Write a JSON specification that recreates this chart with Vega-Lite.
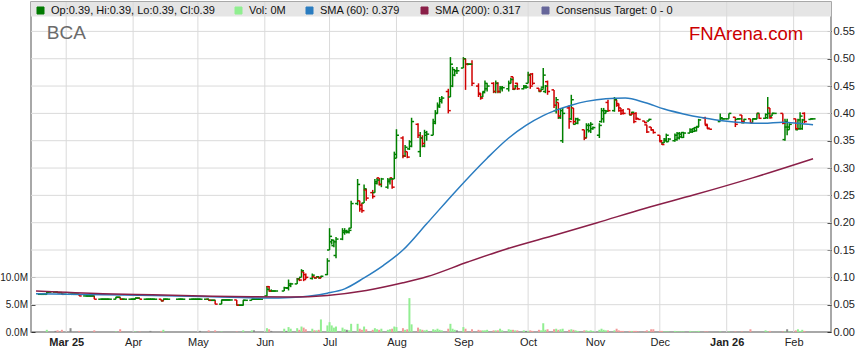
{
"$schema":"https://vega.github.io/schema/vega-lite/v6.json",
"width":800,"height":330,"autosize":"none",
"padding":{"left":31,"top":2,"right":28,"bottom":31},
"background":"white",
"config":{"view":{"stroke":"#8c8c8c","strokeWidth":1.5},
"axis":{"labelFont":"Liberation Sans","labelFontSize":11,"labelColor":"#222"},
"text":{"font":"Liberation Sans"}},
"datasets":{
"gx":[{"m":"2025-03-01"},{"m":"2025-04-01"},{"m":"2025-05-01"},{"m":"2025-06-01"},{"m":"2025-07-01"},{"m":"2025-08-01"},{"m":"2025-09-01"},{"m":"2025-10-01"},{"m":"2025-11-01"},{"m":"2025-12-01"},{"m":"2026-01-01"},{"m":"2026-02-01"}],
"gy":[{"g":0.05},{"g":0.1},{"g":0.15},{"g":0.2},{"g":0.25},{"g":0.3},{"g":0.35},{"g":0.4},{"g":0.45},{"g":0.5},{"g":0.55}],
"px":[
{"d":"2025-02-17","o":0.069,"h":0.069,"l":0.069,"c":0.069,"v":0},
{"d":"2025-02-18","o":0.069,"h":0.069,"l":0.069,"c":0.069,"v":0},
{"d":"2025-02-19","o":0.069,"h":0.069,"l":0.069,"c":0.069,"v":0},
{"d":"2025-02-20","o":0.069,"h":0.073,"l":0.069,"c":0.073,"v":0.4},
{"d":"2025-02-21","o":0.073,"h":0.073,"l":0.073,"c":0.073,"v":0},
{"d":"2025-02-24","o":0.073,"h":0.073,"l":0.073,"c":0.073,"v":0.2},
{"d":"2025-02-25","o":0.073,"h":0.073,"l":0.072,"c":0.072,"v":0.3},
{"d":"2025-02-26","o":0.072,"h":0.072,"l":0.072,"c":0.072,"v":0},
{"d":"2025-02-27","o":0.072,"h":0.072,"l":0.069,"c":0.069,"v":0.4},
{"d":"2025-02-28","o":0.069,"h":0.069,"l":0.069,"c":0.069,"v":0},
{"d":"2025-03-03","o":0.069,"h":0.069,"l":0.069,"c":0.069,"v":0.7},
{"d":"2025-03-04","o":0.069,"h":0.069,"l":0.069,"c":0.069,"v":0},
{"d":"2025-03-05","o":0.069,"h":0.069,"l":0.069,"c":0.069,"v":0},
{"d":"2025-03-06","o":0.069,"h":0.069,"l":0.069,"c":0.069,"v":0},
{"d":"2025-03-07","o":0.069,"h":0.069,"l":0.066,"c":0.066,"v":0.2},
{"d":"2025-03-10","o":0.066,"h":0.066,"l":0.066,"c":0.066,"v":0},
{"d":"2025-03-11","o":0.066,"h":0.066,"l":0.066,"c":0.066,"v":0},
{"d":"2025-03-12","o":0.066,"h":0.066,"l":0.066,"c":0.066,"v":0},
{"d":"2025-03-13","o":0.066,"h":0.066,"l":0.066,"c":0.066,"v":0},
{"d":"2025-03-14","o":0.066,"h":0.066,"l":0.060,"c":0.060,"v":0.3},
{"d":"2025-03-17","o":0.060,"h":0.060,"l":0.060,"c":0.060,"v":0},
{"d":"2025-03-18","o":0.060,"h":0.060,"l":0.060,"c":0.060,"v":0},
{"d":"2025-03-19","o":0.060,"h":0.060,"l":0.060,"c":0.060,"v":0},
{"d":"2025-03-20","o":0.060,"h":0.060,"l":0.060,"c":0.060,"v":0},
{"d":"2025-03-21","o":0.060,"h":0.060,"l":0.060,"c":0.060,"v":0},
{"d":"2025-03-24","o":0.060,"h":0.0635,"l":0.060,"c":0.0635,"v":0.1},
{"d":"2025-03-25","o":0.0635,"h":0.0635,"l":0.0635,"c":0.0635,"v":0},
{"d":"2025-03-26","o":0.0635,"h":0.0635,"l":0.060,"c":0.060,"v":0.5},
{"d":"2025-03-27","o":0.060,"h":0.060,"l":0.060,"c":0.060,"v":0},
{"d":"2025-03-28","o":0.060,"h":0.060,"l":0.060,"c":0.060,"v":0},
{"d":"2025-03-31","o":0.060,"h":0.060,"l":0.060,"c":0.060,"v":0},
{"d":"2025-04-01","o":0.060,"h":0.060,"l":0.060,"c":0.060,"v":0},
{"d":"2025-04-02","o":0.060,"h":0.062,"l":0.060,"c":0.062,"v":0.1},
{"d":"2025-04-03","o":0.062,"h":0.062,"l":0.062,"c":0.062,"v":0},
{"d":"2025-04-04","o":0.062,"h":0.062,"l":0.060,"c":0.060,"v":0.1},
{"d":"2025-04-07","o":0.060,"h":0.060,"l":0.060,"c":0.060,"v":0},
{"d":"2025-04-08","o":0.060,"h":0.060,"l":0.060,"c":0.060,"v":0},
{"d":"2025-04-09","o":0.060,"h":0.061,"l":0.060,"c":0.060,"v":0.2},
{"d":"2025-04-10","o":0.060,"h":0.060,"l":0.060,"c":0.060,"v":0},
{"d":"2025-04-11","o":0.060,"h":0.060,"l":0.060,"c":0.060,"v":0},
{"d":"2025-04-14","o":0.060,"h":0.060,"l":0.057,"c":0.057,"v":0.2},
{"d":"2025-04-15","o":0.057,"h":0.060,"l":0.057,"c":0.060,"v":0.4},
{"d":"2025-04-16","o":0.060,"h":0.060,"l":0.060,"c":0.060,"v":0},
{"d":"2025-04-17","o":0.060,"h":0.060,"l":0.060,"c":0.060,"v":0},
{"d":"2025-04-22","o":0.060,"h":0.060,"l":0.060,"c":0.060,"v":0},
{"d":"2025-04-23","o":0.060,"h":0.060,"l":0.060,"c":0.060,"v":0},
{"d":"2025-04-24","o":0.060,"h":0.060,"l":0.060,"c":0.060,"v":0},
{"d":"2025-04-28","o":0.060,"h":0.060,"l":0.060,"c":0.060,"v":0},
{"d":"2025-04-29","o":0.060,"h":0.060,"l":0.060,"c":0.060,"v":0},
{"d":"2025-04-30","o":0.060,"h":0.060,"l":0.060,"c":0.060,"v":0},
{"d":"2025-05-01","o":0.060,"h":0.060,"l":0.060,"c":0.060,"v":0},
{"d":"2025-05-02","o":0.060,"h":0.061,"l":0.060,"c":0.060,"v":0.2},
{"d":"2025-05-05","o":0.060,"h":0.060,"l":0.060,"c":0.060,"v":0},
{"d":"2025-05-06","o":0.060,"h":0.060,"l":0.058,"c":0.058,"v":0.3},
{"d":"2025-05-07","o":0.058,"h":0.058,"l":0.058,"c":0.058,"v":0},
{"d":"2025-05-08","o":0.058,"h":0.058,"l":0.058,"c":0.058,"v":0},
{"d":"2025-05-09","o":0.058,"h":0.058,"l":0.051,"c":0.051,"v":0.3},
{"d":"2025-05-12","o":0.051,"h":0.0586,"l":0.051,"c":0.0586,"v":0.1},
{"d":"2025-05-13","o":0.0586,"h":0.0586,"l":0.0586,"c":0.0586,"v":0},
{"d":"2025-05-14","o":0.0586,"h":0.0586,"l":0.0586,"c":0.0586,"v":0},
{"d":"2025-05-15","o":0.0586,"h":0.0586,"l":0.0586,"c":0.0586,"v":0},
{"d":"2025-05-16","o":0.0586,"h":0.0586,"l":0.0586,"c":0.0586,"v":0},
{"d":"2025-05-19","o":0.0586,"h":0.0586,"l":0.049,"c":0.049,"v":0.1},
{"d":"2025-05-20","o":0.049,"h":0.049,"l":0.049,"c":0.049,"v":0},
{"d":"2025-05-21","o":0.049,"h":0.049,"l":0.049,"c":0.049,"v":0},
{"d":"2025-05-22","o":0.049,"h":0.058,"l":0.049,"c":0.058,"v":0.3},
{"d":"2025-05-23","o":0.058,"h":0.058,"l":0.058,"c":0.058,"v":0},
{"d":"2025-05-26","o":0.058,"h":0.060,"l":0.058,"c":0.060,"v":0.3},
{"d":"2025-05-27","o":0.060,"h":0.060,"l":0.060,"c":0.060,"v":0.3},
{"d":"2025-05-28","o":0.060,"h":0.060,"l":0.060,"c":0.060,"v":0},
{"d":"2025-05-29","o":0.060,"h":0.060,"l":0.060,"c":0.060,"v":0},
{"d":"2025-05-30","o":0.060,"h":0.060,"l":0.060,"c":0.060,"v":0},
{"d":"2025-06-02","o":0.066,"h":0.084,"l":0.066,"c":0.078,"v":0.7},
{"d":"2025-06-03","o":0.083,"h":0.084,"l":0.074,"c":0.075,"v":0.5},
{"d":"2025-06-04","o":0.075,"h":0.078,"l":0.074,"c":0.075,"v":0.2},
{"d":"2025-06-05","o":0.075,"h":0.075,"l":0.075,"c":0.075,"v":0},
{"d":"2025-06-06","o":0.075,"h":0.075,"l":0.075,"c":0.075,"v":0},
{"d":"2025-06-10","o":0.075,"h":0.083,"l":0.075,"c":0.081,"v":0.6},
{"d":"2025-06-11","o":0.081,"h":0.082,"l":0.080,"c":0.081,"v":0.2},
{"d":"2025-06-12","o":0.080,"h":0.096,"l":0.076,"c":0.088,"v":0.9},
{"d":"2025-06-13","o":0.085,"h":0.090,"l":0.082,"c":0.088,"v":0.6},
{"d":"2025-06-16","o":0.088,"h":0.099,"l":0.088,"c":0.097,"v":0.7},
{"d":"2025-06-17","o":0.097,"h":0.099,"l":0.093,"c":0.095,"v":0.4},
{"d":"2025-06-18","o":0.100,"h":0.115,"l":0.100,"c":0.112,"v":1.0},
{"d":"2025-06-19","o":0.110,"h":0.110,"l":0.093,"c":0.096,"v":0.8},
{"d":"2025-06-20","o":0.105,"h":0.107,"l":0.097,"c":0.100,"v":0.5},
{"d":"2025-06-23","o":0.098,"h":0.107,"l":0.096,"c":0.104,"v":0.6},
{"d":"2025-06-24","o":0.101,"h":0.101,"l":0.098,"c":0.099,"v":0.3},
{"d":"2025-06-25","o":0.099,"h":0.102,"l":0.099,"c":0.101,"v":0.3},
{"d":"2025-06-26","o":0.101,"h":0.102,"l":0.098,"c":0.099,"v":0.4},
{"d":"2025-06-27","o":0.099,"h":0.103,"l":0.099,"c":0.102,"v":2.3},
{"d":"2025-06-30","o":0.105,"h":0.135,"l":0.104,"c":0.130,"v":1.2},
{"d":"2025-07-01","o":0.150,"h":0.190,"l":0.150,"c":0.175,"v":1.8},
{"d":"2025-07-02","o":0.165,"h":0.170,"l":0.160,"c":0.168,"v":1.2},
{"d":"2025-07-03","o":0.158,"h":0.168,"l":0.155,"c":0.165,"v":0.8},
{"d":"2025-07-04","o":0.140,"h":0.174,"l":0.135,"c":0.170,"v":1.0},
{"d":"2025-07-07","o":0.170,"h":0.190,"l":0.168,"c":0.185,"v":0.8},
{"d":"2025-07-08","o":0.182,"h":0.190,"l":0.178,"c":0.185,"v":0.5},
{"d":"2025-07-09","o":0.183,"h":0.187,"l":0.180,"c":0.183,"v":0.4},
{"d":"2025-07-10","o":0.183,"h":0.190,"l":0.180,"c":0.186,"v":0.3},
{"d":"2025-07-11","o":0.190,"h":0.240,"l":0.190,"c":0.235,"v":1.5},
{"d":"2025-07-14","o":0.235,"h":0.280,"l":0.232,"c":0.270,"v":1.5},
{"d":"2025-07-15","o":0.240,"h":0.240,"l":0.220,"c":0.225,"v":0.6},
{"d":"2025-07-16","o":0.232,"h":0.236,"l":0.218,"c":0.222,"v":0.4},
{"d":"2025-07-17","o":0.236,"h":0.270,"l":0.236,"c":0.262,"v":1.0},
{"d":"2025-07-18","o":0.260,"h":0.262,"l":0.240,"c":0.245,"v":0.5},
{"d":"2025-07-21","o":0.255,"h":0.260,"l":0.244,"c":0.248,"v":0.4},
{"d":"2025-07-22","o":0.255,"h":0.280,"l":0.255,"c":0.275,"v":0.7},
{"d":"2025-07-23","o":0.272,"h":0.282,"l":0.270,"c":0.278,"v":0.5},
{"d":"2025-07-24","o":0.282,"h":0.282,"l":0.268,"c":0.270,"v":0.4},
{"d":"2025-07-25","o":0.270,"h":0.282,"l":0.265,"c":0.280,"v":0.6},
{"d":"2025-07-28","o":0.265,"h":0.282,"l":0.262,"c":0.278,"v":0.4},
{"d":"2025-07-29","o":0.275,"h":0.282,"l":0.270,"c":0.280,"v":0.5},
{"d":"2025-07-30","o":0.282,"h":0.282,"l":0.262,"c":0.265,"v":0.6},
{"d":"2025-07-31","o":0.280,"h":0.330,"l":0.280,"c":0.325,"v":1.0},
{"d":"2025-08-01","o":0.318,"h":0.371,"l":0.318,"c":0.360,"v":0.9},
{"d":"2025-08-04","o":0.355,"h":0.358,"l":0.318,"c":0.322,"v":0.7},
{"d":"2025-08-05","o":0.322,"h":0.342,"l":0.320,"c":0.338,"v":0.4},
{"d":"2025-08-06","o":0.330,"h":0.330,"l":0.318,"c":0.320,"v":0.5},
{"d":"2025-08-07","o":0.335,"h":0.351,"l":0.333,"c":0.348,"v":6.2},
{"d":"2025-08-08","o":0.340,"h":0.392,"l":0.338,"c":0.385,"v":1.4},
{"d":"2025-08-11","o":0.380,"h":0.382,"l":0.355,"c":0.360,"v":0.8},
{"d":"2025-08-12","o":0.330,"h":0.366,"l":0.320,"c":0.355,"v":0.5},
{"d":"2025-08-13","o":0.355,"h":0.360,"l":0.338,"c":0.345,"v":0.4},
{"d":"2025-08-14","o":0.340,"h":0.370,"l":0.338,"c":0.365,"v":0.3},
{"d":"2025-08-15","o":0.360,"h":0.368,"l":0.350,"c":0.362,"v":0.4},
{"d":"2025-08-18","o":0.360,"h":0.390,"l":0.360,"c":0.385,"v":0.5},
{"d":"2025-08-19","o":0.382,"h":0.406,"l":0.380,"c":0.400,"v":0.4},
{"d":"2025-08-20","o":0.400,"h":0.420,"l":0.400,"c":0.415,"v":0.6},
{"d":"2025-08-21","o":0.412,"h":0.430,"l":0.410,"c":0.425,"v":0.4},
{"d":"2025-08-22","o":0.422,"h":0.432,"l":0.418,"c":0.428,"v":0.3},
{"d":"2025-08-25","o":0.440,"h":0.445,"l":0.400,"c":0.405,"v":0.6},
{"d":"2025-08-26","o":0.430,"h":0.503,"l":0.430,"c":0.490,"v":1.5},
{"d":"2025-08-27","o":0.450,"h":0.485,"l":0.448,"c":0.480,"v":0.6},
{"d":"2025-08-28","o":0.470,"h":0.480,"l":0.468,"c":0.478,"v":0.4},
{"d":"2025-08-29","o":0.478,"h":0.485,"l":0.472,"c":0.478,"v":0.3},
{"d":"2025-09-01","o":0.483,"h":0.503,"l":0.483,"c":0.500,"v":0.9},
{"d":"2025-09-02","o":0.500,"h":0.500,"l":0.443,"c":0.490,"v":0.6},
{"d":"2025-09-03","o":0.490,"h":0.492,"l":0.488,"c":0.490,"v":0},
{"d":"2025-09-04","o":0.490,"h":0.490,"l":0.490,"c":0.490,"v":0},
{"d":"2025-09-05","o":0.490,"h":0.497,"l":0.450,"c":0.455,"v":0.5},
{"d":"2025-09-08","o":0.450,"h":0.455,"l":0.430,"c":0.435,"v":0.4},
{"d":"2025-09-09","o":0.437,"h":0.437,"l":0.425,"c":0.428,"v":0.3},
{"d":"2025-09-10","o":0.430,"h":0.440,"l":0.430,"c":0.438,"v":0.3},
{"d":"2025-09-11","o":0.440,"h":0.460,"l":0.440,"c":0.455,"v":0.3},
{"d":"2025-09-12","o":0.445,"h":0.455,"l":0.440,"c":0.450,"v":0.4},
{"d":"2025-09-15","o":0.455,"h":0.457,"l":0.437,"c":0.440,"v":0.3},
{"d":"2025-09-16","o":0.440,"h":0.460,"l":0.437,"c":0.455,"v":0.3},
{"d":"2025-09-17","o":0.455,"h":0.457,"l":0.437,"c":0.440,"v":0.3},
{"d":"2025-09-18","o":0.440,"h":0.450,"l":0.437,"c":0.448,"v":0.6},
{"d":"2025-09-19","o":0.445,"h":0.450,"l":0.440,"c":0.447,"v":0.3},
{"d":"2025-09-22","o":0.445,"h":0.460,"l":0.440,"c":0.455,"v":0.5},
{"d":"2025-09-23","o":0.455,"h":0.465,"l":0.455,"c":0.462,"v":0.4},
{"d":"2025-09-24","o":0.467,"h":0.467,"l":0.443,"c":0.445,"v":0.4},
{"d":"2025-09-25","o":0.444,"h":0.452,"l":0.444,"c":0.450,"v":0.3},
{"d":"2025-09-26","o":0.455,"h":0.456,"l":0.443,"c":0.445,"v":0.3},
{"d":"2025-09-29","o":0.445,"h":0.452,"l":0.444,"c":0.450,"v":0.3},
{"d":"2025-09-30","o":0.448,"h":0.452,"l":0.445,"c":0.448,"v":0.2},
{"d":"2025-10-01","o":0.455,"h":0.476,"l":0.455,"c":0.470,"v":0.2},
{"d":"2025-10-02","o":0.470,"h":0.473,"l":0.445,"c":0.450,"v":0.3},
{"d":"2025-10-03","o":0.472,"h":0.474,"l":0.452,"c":0.455,"v":0.2},
{"d":"2025-10-06","o":0.446,"h":0.446,"l":0.440,"c":0.441,"v":0.4},
{"d":"2025-10-07","o":0.440,"h":0.446,"l":0.440,"c":0.444,"v":0.3},
{"d":"2025-10-08","o":0.448,"h":0.483,"l":0.445,"c":0.470,"v":1.6},
{"d":"2025-10-09","o":0.440,"h":0.452,"l":0.437,"c":0.450,"v":0.4},
{"d":"2025-10-10","o":0.458,"h":0.460,"l":0.434,"c":0.440,"v":0.5},
{"d":"2025-10-13","o":0.443,"h":0.443,"l":0.410,"c":0.415,"v":0.5},
{"d":"2025-10-14","o":0.405,"h":0.430,"l":0.400,"c":0.425,"v":0.6},
{"d":"2025-10-15","o":0.420,"h":0.420,"l":0.390,"c":0.395,"v":0.4},
{"d":"2025-10-16","o":0.392,"h":0.410,"l":0.390,"c":0.405,"v":0.5},
{"d":"2025-10-17","o":0.350,"h":0.410,"l":0.346,"c":0.400,"v":0.6},
{"d":"2025-10-20","o":0.410,"h":0.415,"l":0.372,"c":0.385,"v":0.4},
{"d":"2025-10-21","o":0.390,"h":0.434,"l":0.388,"c":0.425,"v":0.5},
{"d":"2025-10-22","o":0.410,"h":0.410,"l":0.380,"c":0.385,"v":0.4},
{"d":"2025-10-23","o":0.380,"h":0.392,"l":0.380,"c":0.390,"v":0.3},
{"d":"2025-10-24","o":0.382,"h":0.392,"l":0.380,"c":0.388,"v":0.2},
{"d":"2025-10-27","o":0.370,"h":0.370,"l":0.351,"c":0.355,"v":0.3},
{"d":"2025-10-28","o":0.355,"h":0.382,"l":0.355,"c":0.378,"v":0.3},
{"d":"2025-10-29","o":0.370,"h":0.382,"l":0.365,"c":0.378,"v":0.2},
{"d":"2025-10-30","o":0.368,"h":0.384,"l":0.364,"c":0.380,"v":0.3},
{"d":"2025-10-31","o":0.372,"h":0.376,"l":0.370,"c":0.374,"v":0.2},
{"d":"2025-11-03","o":0.360,"h":0.382,"l":0.355,"c":0.378,"v":0.4},
{"d":"2025-11-04","o":0.385,"h":0.410,"l":0.383,"c":0.405,"v":0.6},
{"d":"2025-11-05","o":0.390,"h":0.410,"l":0.383,"c":0.405,"v":0.4},
{"d":"2025-11-06","o":0.400,"h":0.406,"l":0.400,"c":0.404,"v":0.3},
{"d":"2025-11-07","o":0.420,"h":0.425,"l":0.403,"c":0.405,"v":0.3},
{"d":"2025-11-10","o":0.405,"h":0.430,"l":0.403,"c":0.425,"v":0.3},
{"d":"2025-11-11","o":0.425,"h":0.425,"l":0.412,"c":0.415,"v":0.6},
{"d":"2025-11-12","o":0.418,"h":0.418,"l":0.403,"c":0.405,"v":0.3},
{"d":"2025-11-13","o":0.410,"h":0.410,"l":0.397,"c":0.400,"v":0.2},
{"d":"2025-11-14","o":0.405,"h":0.408,"l":0.398,"c":0.400,"v":0.2},
{"d":"2025-11-17","o":0.408,"h":0.408,"l":0.397,"c":0.398,"v":0.2},
{"d":"2025-11-18","o":0.397,"h":0.403,"l":0.397,"c":0.402,"v":0.2},
{"d":"2025-11-19","o":0.400,"h":0.400,"l":0.382,"c":0.385,"v":0.2},
{"d":"2025-11-20","o":0.400,"h":0.402,"l":0.388,"c":0.390,"v":0.2},
{"d":"2025-11-21","o":0.391,"h":0.391,"l":0.389,"c":0.389,"v":0.1},
{"d":"2025-11-24","o":0.386,"h":0.386,"l":0.382,"c":0.383,"v":0.1},
{"d":"2025-11-25","o":0.379,"h":0.379,"l":0.364,"c":0.366,"v":0.3},
{"d":"2025-11-26","o":0.386,"h":0.390,"l":0.386,"c":0.389,"v":0.1},
{"d":"2025-11-27","o":0.375,"h":0.375,"l":0.368,"c":0.370,"v":0.5},
{"d":"2025-11-28","o":0.370,"h":0.370,"l":0.363,"c":0.365,"v":0.5},
{"d":"2025-12-01","o":0.360,"h":0.360,"l":0.348,"c":0.350,"v":0.2},
{"d":"2025-12-02","o":0.348,"h":0.348,"l":0.342,"c":0.343,"v":0.2},
{"d":"2025-12-03","o":0.346,"h":0.355,"l":0.346,"c":0.353,"v":0.1},
{"d":"2025-12-04","o":0.350,"h":0.363,"l":0.348,"c":0.360,"v":0.1},
{"d":"2025-12-05","o":0.348,"h":0.355,"l":0.348,"c":0.353,"v":0.1},
{"d":"2025-12-08","o":0.350,"h":0.363,"l":0.348,"c":0.360,"v":0.2},
{"d":"2025-12-09","o":0.352,"h":0.366,"l":0.350,"c":0.363,"v":0.1},
{"d":"2025-12-10","o":0.355,"h":0.366,"l":0.352,"c":0.362,"v":0.1},
{"d":"2025-12-11","o":0.357,"h":0.366,"l":0.355,"c":0.365,"v":0.1},
{"d":"2025-12-12","o":0.356,"h":0.366,"l":0.355,"c":0.364,"v":0.1},
{"d":"2025-12-15","o":0.364,"h":0.373,"l":0.364,"c":0.370,"v":0.2},
{"d":"2025-12-16","o":0.366,"h":0.373,"l":0.364,"c":0.372,"v":0.1},
{"d":"2025-12-17","o":0.367,"h":0.375,"l":0.366,"c":0.374,"v":0.1},
{"d":"2025-12-18","o":0.368,"h":0.376,"l":0.367,"c":0.375,"v":0.1},
{"d":"2025-12-19","o":0.376,"h":0.390,"l":0.375,"c":0.388,"v":0.2},
{"d":"2025-12-22","o":0.392,"h":0.394,"l":0.379,"c":0.380,"v":0.1},
{"d":"2025-12-23","o":0.378,"h":0.380,"l":0.372,"c":0.373,"v":0.1},
{"d":"2025-12-24","o":0.372,"h":0.372,"l":0.371,"c":0.371,"v":0},
{"d":"2025-12-29","o":0.385,"h":0.400,"l":0.385,"c":0.392,"v":0.1},
{"d":"2025-12-30","o":0.390,"h":0.391,"l":0.390,"c":0.390,"v":0},
{"d":"2025-12-31","o":0.390,"h":0.390,"l":0.390,"c":0.390,"v":0},
{"d":"2026-01-02","o":0.390,"h":0.400,"l":0.390,"c":0.400,"v":0.1},
{"d":"2026-01-05","o":0.393,"h":0.393,"l":0.375,"c":0.380,"v":0.1},
{"d":"2026-01-06","o":0.389,"h":0.391,"l":0.389,"c":0.390,"v":0},
{"d":"2026-01-07","o":0.390,"h":0.390,"l":0.390,"c":0.390,"v":0},
{"d":"2026-01-08","o":0.397,"h":0.397,"l":0.382,"c":0.385,"v":0.1},
{"d":"2026-01-09","o":0.383,"h":0.390,"l":0.382,"c":0.389,"v":0},
{"d":"2026-01-12","o":0.390,"h":0.390,"l":0.382,"c":0.383,"v":0.5},
{"d":"2026-01-13","o":0.383,"h":0.390,"l":0.383,"c":0.390,"v":0},
{"d":"2026-01-14","o":0.390,"h":0.390,"l":0.390,"c":0.390,"v":0},
{"d":"2026-01-15","o":0.390,"h":0.400,"l":0.390,"c":0.400,"v":0},
{"d":"2026-01-16","o":0.400,"h":0.400,"l":0.390,"c":0.391,"v":0},
{"d":"2026-01-19","o":0.391,"h":0.400,"l":0.390,"c":0.398,"v":0.3},
{"d":"2026-01-20","o":0.392,"h":0.430,"l":0.390,"c":0.400,"v":0.1},
{"d":"2026-01-21","o":0.410,"h":0.410,"l":0.390,"c":0.392,"v":0.2},
{"d":"2026-01-22","o":0.395,"h":0.400,"l":0.395,"c":0.400,"v":0},
{"d":"2026-01-23","o":0.400,"h":0.400,"l":0.400,"c":0.400,"v":0},
{"d":"2026-01-27","o":0.400,"h":0.400,"l":0.380,"c":0.382,"v":0.1},
{"d":"2026-01-28","o":0.352,"h":0.390,"l":0.350,"c":0.385,"v":0.1},
{"d":"2026-01-29","o":0.375,"h":0.390,"l":0.360,"c":0.375,"v":0.5},
{"d":"2026-01-30","o":0.370,"h":0.382,"l":0.370,"c":0.380,"v":0.1},
{"d":"2026-02-02","o":0.390,"h":0.390,"l":0.370,"c":0.372,"v":0.3},
{"d":"2026-02-03","o":0.370,"h":0.390,"l":0.370,"c":0.388,"v":0.5},
{"d":"2026-02-04","o":0.372,"h":0.402,"l":0.370,"c":0.395,"v":0.2},
{"d":"2026-02-05","o":0.372,"h":0.390,"l":0.370,"c":0.388,"v":0.4},
{"d":"2026-02-06","o":0.400,"h":0.402,"l":0.382,"c":0.385,"v":0.2},
{"d":"2026-02-09","o":0.389,"h":0.391,"l":0.389,"c":0.390,"v":0},
{"d":"2026-02-10","o":0.390,"h":0.390,"l":0.390,"c":0.390,"v":0}
],
"sma":[
{"d":"2025-02-15","s":"sma60","p":0.070},
{"d":"2025-03-18","s":"sma60","p":0.068},
{"d":"2025-04-10","s":"sma60","p":0.067},
{"d":"2025-05-03","s":"sma60","p":0.065},
{"d":"2025-05-21","s":"sma60","p":0.063},
{"d":"2025-06-02","s":"sma60","p":0.062},
{"d":"2025-06-13","s":"sma60","p":0.063},
{"d":"2025-06-22","s":"sma60","p":0.066},
{"d":"2025-06-30","s":"sma60","p":0.071},
{"d":"2025-07-08","s":"sma60","p":0.079},
{"d":"2025-07-17","s":"sma60","p":0.099},
{"d":"2025-07-26","s":"sma60","p":0.122},
{"d":"2025-08-04","s":"sma60","p":0.150},
{"d":"2025-08-15","s":"sma60","p":0.198},
{"d":"2025-08-29","s":"sma60","p":0.260},
{"d":"2025-09-12","s":"sma60","p":0.318},
{"d":"2025-09-22","s":"sma60","p":0.355},
{"d":"2025-09-30","s":"sma60","p":0.378},
{"d":"2025-10-08","s":"sma60","p":0.396},
{"d":"2025-10-14","s":"sma60","p":0.406},
{"d":"2025-10-21","s":"sma60","p":0.415},
{"d":"2025-10-28","s":"sma60","p":0.422},
{"d":"2025-11-06","s":"sma60","p":0.427},
{"d":"2025-11-15","s":"sma60","p":0.428},
{"d":"2025-11-24","s":"sma60","p":0.420},
{"d":"2025-12-03","s":"sma60","p":0.408},
{"d":"2025-12-12","s":"sma60","p":0.399},
{"d":"2025-12-21","s":"sma60","p":0.392},
{"d":"2025-12-31","s":"sma60","p":0.386},
{"d":"2026-01-09","s":"sma60","p":0.383},
{"d":"2026-01-18","s":"sma60","p":0.382},
{"d":"2026-01-27","s":"sma60","p":0.384},
{"d":"2026-02-03","s":"sma60","p":0.382},
{"d":"2026-02-10","s":"sma60","p":0.379},
{"d":"2025-02-15","s":"sma200","p":0.075},
{"d":"2025-03-18","s":"sma200","p":0.070},
{"d":"2025-04-10","s":"sma200","p":0.068},
{"d":"2025-05-03","s":"sma200","p":0.066},
{"d":"2025-05-26","s":"sma200","p":0.0645},
{"d":"2025-06-13","s":"sma200","p":0.064},
{"d":"2025-06-30","s":"sma200","p":0.067},
{"d":"2025-07-18","s":"sma200","p":0.076},
{"d":"2025-08-04","s":"sma200","p":0.090},
{"d":"2025-08-15","s":"sma200","p":0.101},
{"d":"2025-09-03","s":"sma200","p":0.128},
{"d":"2025-09-21","s":"sma200","p":0.152},
{"d":"2025-10-14","s":"sma200","p":0.178},
{"d":"2025-11-02","s":"sma200","p":0.200},
{"d":"2025-11-24","s":"sma200","p":0.226},
{"d":"2025-12-17","s":"sma200","p":0.251},
{"d":"2026-01-13","s":"sma200","p":0.282},
{"d":"2026-02-10","s":"sma200","p":0.317}
]
},
"layer":[
{
"data":{"values":[{}]},
"mark":{"type":"rect","color":"#e5e5e5"},
"encoding":{"y":{"datum":0.5773,"type":"quantitative","scale":{"domain":[0,0.6038],"nice":false,"zero":true},"axis":null},
"y2":{"datum":0.6038}}
},
{
"data":{"name":"gy"},
"mark":{"type":"rule","color":"#dadada","strokeWidth":1},
"encoding":{"y":{"field":"g","type":"quantitative","scale":{"domain":[0,0.6038],"nice":false,"zero":true},"axis":null}}
},
{
"data":{"name":"gx"},
"mark":{"type":"rule","color":"#dadada","strokeWidth":1},
"encoding":{"x":{"field":"m","type":"temporal"}}
},
{
"data":{"name":"px"},
"mark":{"type":"bar","width":2},
"encoding":{
"x":{"field":"d","type":"temporal"},
"y":{"field":"v","type":"quantitative","scale":{"domain":[0,60.38],"nice":false,"zero":true},
"axis":{"orient":"left","values":[0,5,10],"labelExpr":"format(datum.value,'.1f')+'M'","labelFontSize":10,"grid":false,"domain":false,"ticks":true,"tickSize":-4,"tickColor":"#333","labelPadding":7.5,"title":null}},
"color":{"condition":[{"test":"datum.c < datum.o","value":"#f29a9a"},{"test":"datum.c == datum.o","value":"#8a8a8a"}],"value":"#92ee92"}
}
},
{
"data":{"name":"px"},
"mark":{"type":"rule","strokeWidth":1.5},
"encoding":{
"x":{"field":"d","type":"temporal",
"scale":{"type":"utc","domain":[{"year":2025,"month":2,"date":15,"utc":true},{"year":2026,"month":2,"date":16,"utc":true}]},
"axis":{"orient":"bottom","values":[1740787200000,1743465600000,1746057600000,1748736000000,1751328000000,1754006400000,1756684800000,1759276800000,1761955200000,1764547200000,1767225600000,1769904000000],
"labelExpr":"(utcmonth(datum.value)==0 || (utcmonth(datum.value)==2 && utcyear(datum.value)==2025)) ? utcFormat(datum.value,'%b %y') : utcFormat(datum.value,'%b')",
"labelFontWeight":{"condition":{"test":"utcmonth(datum.value)==0 || (utcmonth(datum.value)==2 && utcyear(datum.value)==2025)","value":"bold"},"value":"normal"},
"grid":false,"ticks":false,"domain":false,"labelPadding":4,"title":null}},
"y":{"field":"l","type":"quantitative","scale":{"domain":[0,0.6038],"nice":false,"zero":true},
"axis":{"orient":"right","values":[0,0.05,0.1,0.15,0.2,0.25,0.3,0.35,0.4,0.45,0.5,0.55],"format":".2f","grid":false,"domain":false,"tickSize":-4,"tickColor":"#333","labelPadding":6,"title":null}},
"y2":{"field":"h"},
"color":{"condition":{"test":"datum.c < datum.o","value":"#d00000"},"value":"#008000"}}
},
{
"data":{"name":"px"},
"mark":{"type":"rule","strokeWidth":1.5,"xOffset":-2.5,"x2Offset":0},
"encoding":{"x":{"field":"d","type":"temporal"},"x2":{"field":"d"},"y":{"field":"o","type":"quantitative","scale":{"domain":[0,0.6038],"nice":false,"zero":true},"axis":null},
"color":{"condition":{"test":"datum.c < datum.o","value":"#d00000"},"value":"#008000"}}
},
{
"data":{"name":"px"},
"mark":{"type":"rule","strokeWidth":1.5,"xOffset":0,"x2Offset":2.5},
"encoding":{"x":{"field":"d","type":"temporal"},"x2":{"field":"d"},"y":{"field":"c","type":"quantitative","scale":{"domain":[0,0.6038],"nice":false,"zero":true},"axis":null},
"color":{"condition":{"test":"datum.c < datum.o","value":"#d00000"},"value":"#008000"}}
},
{
"data":{"name":"sma"},
"mark":{"type":"line","strokeWidth":1.5,"interpolate":"monotone"},
"encoding":{"x":{"field":"d","type":"temporal"},"y":{"field":"p","type":"quantitative","scale":{"domain":[0,0.6038],"nice":false,"zero":true},"axis":null},
"color":{"field":"s","type":"nominal",
"scale":{"domain":["ohlc","vol","sma60","sma200","target"],"range":["#007a00","#90ee90","#2a7cc0","#8a1f48","#66669a"]},
"legend":{"orient":"none","legendX":4,"legendY":3,"direction":"horizontal","title":null,"padding":0,
"symbolType":"square","symbolSize":49,"symbolStrokeWidth":1,"symbolStrokeColor":"#222",
"labelFont":"Liberation Sans","labelFontSize":11,"labelColor":"#111","labelOffset":5,"columnPadding":18,"labelLimit":300,
"labelExpr":"datum.value=='ohlc' ? 'Op:0.39, Hi:0.39, Lo:0.39, Cl:0.39' : datum.value=='vol' ? 'Vol: 0M' : datum.value=='sma60' ? 'SMA (60): 0.379' : datum.value=='sma200' ? 'SMA (200): 0.317' : 'Consensus Target: 0 - 0'",
"encode":{"symbols":{"update":{"fill":{"scale":"color","field":"value"},"stroke":{"value":"#222"},"strokeWidth":{"value":1},"opacity":{"value":1}}}}}}}
},
{
"data":{"values":[{}]},
"mark":{"type":"text","align":"left","baseline":"alphabetic","fontSize":19,"color":"#6b6b6b","font":"Liberation Sans"},
"encoding":{"x":{"datum":{"year":2025,"month":2,"date":20,"utc":true},"type":"temporal"},"y":{"datum":0.536,"type":"quantitative","scale":{"domain":[0,0.6038],"nice":false,"zero":true},"axis":null},"text":{"value":"BCA"}}
},
{
"data":{"values":[{}]},
"mark":{"type":"text","align":"right","baseline":"alphabetic","fontSize":18.5,"color":"#cc0000","font":"Liberation Sans"},
"encoding":{"x":{"datum":{"year":2026,"month":2,"date":5,"hours":10,"utc":true},"type":"temporal"},"y":{"datum":0.5345,"type":"quantitative","scale":{"domain":[0,0.6038],"nice":false,"zero":true},"axis":null},"text":{"value":"FNArena.com"}}
}
],
"resolve":{"scale":{"y":"independent"}}
}
